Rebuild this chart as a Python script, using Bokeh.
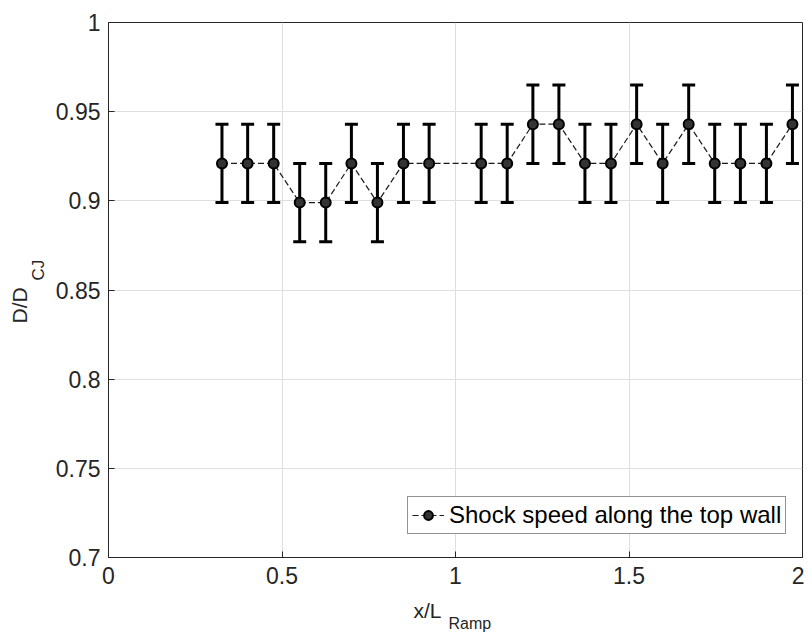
from bokeh.plotting import figure
from bokeh.models import (ColumnDataSource, Range1d, Legend, LegendItem, Title,
                          FixedTicker, NumeralTickFormatter)
from bokeh.embed import file_html
from bokeh.resources import INLINE

# ---- data ----
x_pos = [0.327, 0.401, 0.476, 0.551, 0.626, 0.700, 0.775, 0.850, 0.924,
         1.074, 1.149, 1.223, 1.298, 1.373, 1.448, 1.522, 1.597, 1.672,
         1.747, 1.821, 1.896, 1.971]
speed = [0.921, 0.921, 0.921, 0.899, 0.899, 0.921, 0.899, 0.921, 0.921,
         0.921, 0.921, 0.943, 0.943, 0.921, 0.921, 0.943, 0.921, 0.943,
         0.921, 0.921, 0.921, 0.943]
err = [0.022, 0.022, 0.022, 0.022, 0.022, 0.022, 0.022, 0.022, 0.022,
       0.022, 0.022, 0.022, 0.022, 0.022, 0.022, 0.022, 0.022, 0.022,
       0.022, 0.022, 0.022, 0.022]
x_ticks = [0, 0.5, 1, 1.5, 2]
y_ticks = [0.7, 0.75, 0.8, 0.85, 0.9, 0.95, 1.0]
legend_label = "Shock speed along the top wall"

FONT = "Liberation Sans"
TXT = "#262626"

src = ColumnDataSource(dict(
    x=x_pos, y=speed,
    lo=[s - e for s, e in zip(speed, err)],
    hi=[s + e for s, e in zip(speed, err)],
))

p = figure(width=804, height=634, output_backend="svg", toolbar_location=None,
           x_range=Range1d(0, 2), y_range=Range1d(0.7, 1.0),
           min_border_left=108, min_border_right=2,
           min_border_top=22, min_border_bottom=77)
p.background_fill_color = "white"
p.border_fill_color = "white"
p.outline_line_color = TXT
p.outline_line_width = 1

for ax, ticks, fmt in ((p.xaxis, x_ticks, "0.[0]"), (p.yaxis, y_ticks, "0.[00]")):
    ax.ticker = FixedTicker(ticks=ticks)
    ax.formatter = NumeralTickFormatter(format=fmt)
    ax.major_label_text_font = FONT
    ax.major_label_text_font_size = "23px"
    ax.major_label_text_color = TXT
    ax.major_tick_in = 6
    ax.major_tick_out = 0
    ax.minor_tick_line_color = None
    ax.axis_line_color = TXT
    ax.major_tick_line_color = TXT
p.xaxis.major_label_standoff = 9
p.yaxis.major_label_standoff = 8

p.grid.grid_line_color = "#dedede"
p.grid.grid_line_width = 1

# error bars
p.segment(x0="x", y0="lo", x1="x", y1="hi", source=src, line_color="black", line_width=3)
p.scatter(x="x", y="hi", source=src, marker="dash", size=13, line_color="black", line_width=3)
p.scatter(x="x", y="lo", source=src, marker="dash", size=13, line_color="black", line_width=3)

line_r = p.line(x="x", y="y", source=src, line_color="#1a1a1a", line_width=1.2, line_dash="6 3")
pts_r = p.scatter(x="x", y="y", source=src, marker="circle", size=10,
                  fill_color="#333333", line_color="black", line_width=2)

legend = Legend(items=[LegendItem(label=legend_label, renderers=[line_r, pts_r])],
                location=(299, 23))
legend.label_text_font = FONT
legend.label_text_font_size = "24px"
legend.label_text_color = "black"
legend.border_line_color = TXT
legend.border_line_width = 1
legend.background_fill_color = "white"
legend.background_fill_alpha = 1
legend.glyph_width = 32
legend.glyph_height = 22
legend.label_standoff = 5
legend.label_height = 22
legend.padding = 4
legend.margin = 0
p.add_layout(legend, "center")

# axis titles with subscripts (stacked side-panel titles)
def title(text, size, offset, standoff, valign="bottom"):
    return Title(text=text, text_font=FONT, text_font_size=size, text_color=TXT,
                 text_font_style="normal", align="left", offset=offset,
                 standoff=standoff, vertical_align=valign)

p.add_layout(title("CJ", "17px", 277, 10), "left")
p.add_layout(title("D/D", "21px", 234, -18), "left")
p.add_layout(title("x/L", "21px", 305, 21), "below")
p.add_layout(title("Ramp", "16px", 340, -35, "top"), "below")

open("out.html", "w").write(file_html(p, INLINE))
